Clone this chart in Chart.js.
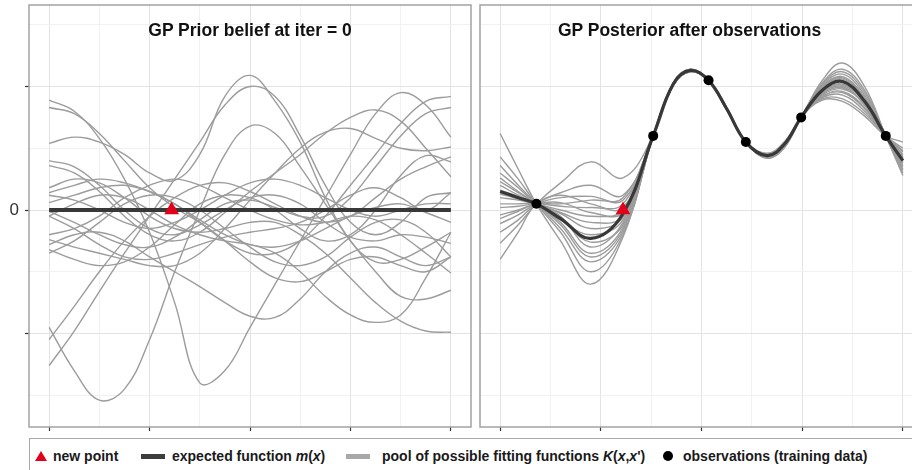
<!DOCTYPE html>
<html>
<head>
<meta charset="utf-8">
<script src="https://cdn.jsdelivr.net/npm/chart.js@4.4.1/dist/chart.umd.min.js"></script>
<style>
  html, body { margin: 0; padding: 0; background: #fff; overflow: hidden; }
  #wrap { position: relative; width: 912px; height: 470px; overflow: hidden; font-family: "Liberation Sans", Arial, sans-serif; }
  canvas { position: absolute; top: 0; }
  #priorCanvas { left: 0; }
  #postCanvas { left: 472px; }
  .title { position: absolute; top: 20px; font-weight: bold; font-size: 17.5px; line-height: 20px; color: #111; text-align: center; white-space: nowrap; }
  #legendBox { position: absolute; left: 29px; top: 438px; width: 920px; height: 60px; border: 1.5px solid #a8a8a8; box-sizing: border-box; }
  .lt { position: absolute; top: 448px; font-weight: bold; font-size: 14px; line-height: 16px; color: #1a1a1a; white-space: nowrap; }
  .key { position: absolute; }
</style>
</head>
<body>
<div id="wrap">
  <canvas id="priorCanvas" width="476" height="436"></canvas>
  <canvas id="postCanvas" width="460" height="436"></canvas>
  <div class="title" style="left:29px;width:442px;">GP Prior belief at iter = 0</div>
  <div class="title" style="left:480px;width:419px;">GP Posterior after observations</div>
  <div id="legendBox"></div>
  <div class="key" style="left:35px;top:451px;width:0;height:0;border-left:6px solid transparent;border-right:6px solid transparent;border-bottom:10px solid #e3001b;"></div>
  <div class="lt" style="left:53px;">new point</div>
  <div class="key" style="left:141px;top:454px;width:24px;height:5px;background:#3d3d3d;"></div>
  <div class="lt" style="left:172px;">expected function <i>m</i>(<i>x</i>)</div>
  <div class="key" style="left:346px;top:454px;width:24px;height:5px;background:#a8a8a8;"></div>
  <div class="lt" style="left:382px;">pool of possible fitting functions <i>K</i>(<i>x</i>,<i>x</i>')</div>
  <div class="key" style="left:663px;top:451px;width:10px;height:10px;border-radius:50%;background:#000;"></div>
  <div class="lt" style="left:683px;">observations (training data)</div>
</div>
<script>
// ---- prior panel: sample functions drawn from the GP prior ----
const priorX = [0, 0.25, 0.5, 0.75, 1, 1.25, 1.5, 1.75, 2, 2.25, 2.5, 2.75, 3, 3.25, 3.5, 3.75, 4];
const priorMean = [0, 0, 0, 0, 0, 0, 0, 0, 0, 0, 0, 0, 0, 0, 0, 0, 0];
const prior01 = [0.89, 0.80, 0.58, 0.25, -0.18, -0.75, -1.40, -1.30, -0.95, -0.60, -0.25, 0.10, 0.45, 0.78, 0.95, 0.85, 0.59];
const prior02 = [0.83, 0.78, 0.62, 0.40, 0.18, 0.02, -0.10, -0.25, -0.42, -0.55, -0.58, -0.50, -0.40, -0.38, -0.45, -0.50, -0.38];
const prior03 = [-1.26, -0.98, -0.66, -0.35, -0.05, 0.25, 0.55, 0.85, 1.00, 0.92, 0.60, 0.20, -0.10, -0.20, -0.10, 0.10, 0.14];
const prior04 = [-0.95, -1.30, -1.54, -1.45, -1.05, -0.50, 0.00, 0.45, 0.68, 0.62, 0.35, 0.05, -0.25, -0.50, -0.70, -0.72, -0.65];
const prior05 = [0.54, 0.59, 0.55, 0.45, 0.30, 0.24, 0.45, 0.92, 1.09, 0.88, 0.55, 0.10, -0.25, -0.42, -0.40, -0.30, -0.18];
const prior06 = [-1.05, -0.78, -0.50, -0.25, -0.05, 0.10, 0.20, 0.22, 0.15, 0.05, -0.05, -0.10, -0.05, 0.10, 0.25, 0.35, 0.43];
const prior07 = [0.36, 0.30, 0.15, -0.05, -0.20, -0.25, -0.18, -0.02, 0.15, 0.30, 0.45, 0.62, 0.75, 0.81, 0.72, 0.50, 0.27];
const prior08 = [-0.28, -0.20, -0.18, -0.25, -0.38, -0.50, -0.62, -0.75, -0.86, -0.87, -0.72, -0.50, -0.35, -0.30, -0.38, -0.45, -0.38];
const prior09 = [0.18, 0.25, 0.22, 0.10, -0.05, -0.15, -0.18, -0.15, -0.10, -0.10, -0.20, -0.35, -0.55, -0.75, -0.90, -0.98, -0.99];
const prior10 = [-0.05, 0.05, 0.12, 0.10, 0.00, -0.12, -0.20, -0.25, -0.28, -0.35, -0.50, -0.70, -0.85, -0.91, -0.85, -0.55, -0.18];
const prior11 = [0.06, 0.12, 0.18, 0.20, 0.15, 0.05, -0.10, -0.25, -0.35, -0.35, -0.25, -0.05, 0.20, 0.45, 0.70, 0.88, 0.92];
const prior12 = [-0.01, -0.10, -0.20, -0.28, -0.30, -0.22, -0.08, 0.05, 0.08, 0.02, -0.05, -0.05, 0.10, 0.35, 0.60, 0.78, 0.83];
const prior13 = [-0.24, -0.30, -0.35, -0.40, -0.45, -0.45, -0.35, -0.15, 0.08, 0.30, 0.50, 0.63, 0.66, 0.58, 0.50, 0.48, 0.51];
const prior14 = [-0.32, -0.40, -0.45, -0.42, -0.30, -0.12, 0.05, 0.12, 0.10, 0.00, -0.15, -0.25, -0.20, 0.00, 0.28, 0.44, 0.39];
const prior15 = [0.40, 0.35, 0.20, 0.00, -0.15, -0.20, -0.12, 0.00, 0.10, 0.12, 0.05, -0.10, -0.22, -0.25, -0.20, -0.22, -0.27];
const prior16 = [-0.35, -0.25, -0.10, 0.05, 0.12, 0.10, 0.00, -0.15, -0.30, -0.42, -0.45, -0.38, -0.22, -0.10, -0.08, -0.18, -0.38];
const prior17 = [0.12, 0.08, 0.00, -0.10, -0.15, -0.10, 0.00, 0.12, 0.22, 0.25, 0.20, 0.10, 0.00, -0.05, 0.00, 0.05, 0.05];
const prior18 = [-0.20, -0.15, -0.05, 0.10, 0.20, 0.25, 0.20, 0.10, 0.00, -0.08, -0.12, -0.10, -0.05, -0.08, -0.20, -0.35, -0.51];
const prior19 = [0.14, 0.20, 0.25, 0.22, 0.15, 0.05, -0.08, -0.20, -0.28, -0.30, -0.25, -0.15, -0.05, 0.02, 0.05, -0.02, -0.10];
const prior20 = [-0.05, -0.15, -0.28, -0.38, -0.40, -0.35, -0.28, -0.22, -0.18, -0.15, -0.10, 0.00, 0.12, 0.18, 0.10, 0.00, 0.14];
const priorDraws = [prior01, prior02, prior03, prior04, prior05, prior06, prior07, prior08, prior09, prior10,
                    prior11, prior12, prior13, prior14, prior15, prior16, prior17, prior18, prior19, prior20];

// ---- posterior panel: conditioned on the training observations ----
const postX = [0, 0.18, 0.36, 0.6, 0.9, 1.22, 1.52, 1.72, 1.89, 2.07, 2.25, 2.44, 2.65, 2.82, 2.99, 3.2, 3.4, 3.62, 3.83, 4.0];
const postMean = [0.15, 0.10, 0.05, -0.07, -0.23, -0.03, 0.60, 1.02, 1.13, 1.05, 0.82, 0.55, 0.44, 0.53, 0.75, 0.97, 1.04, 0.88, 0.60, 0.40];
const post01 = [0.62, 0.33, 0.05, -0.25, -0.60, -0.22, 0.60, 1.03, 1.14, 1.05, 0.82, 0.55, 0.42, 0.50, 0.75, 1.02, 1.12, 0.95, 0.60, 0.32];
const post02 = [0.43, 0.25, 0.05, -0.18, -0.50, -0.20, 0.60, 1.02, 1.13, 1.05, 0.83, 0.55, 0.45, 0.54, 0.75, 0.92, 0.96, 0.83, 0.60, 0.45];
const post03 = [0.36, 0.20, 0.05, -0.15, -0.42, -0.18, 0.60, 1.01, 1.12, 1.05, 0.82, 0.55, 0.43, 0.52, 0.75, 1.05, 1.19, 1.00, 0.60, 0.28];
const post04 = [0.30, 0.18, 0.05, -0.10, -0.35, -0.14, 0.60, 1.02, 1.13, 1.05, 0.81, 0.55, 0.45, 0.54, 0.75, 0.95, 1.00, 0.85, 0.60, 0.42];
const post05 = [0.23, 0.14, 0.05, -0.05, -0.30, -0.10, 0.60, 1.03, 1.14, 1.05, 0.82, 0.55, 0.44, 0.53, 0.75, 0.90, 0.90, 0.78, 0.60, 0.50];
const post06 = [0.16, 0.11, 0.05, -0.02, -0.10, -0.05, 0.60, 1.02, 1.13, 1.05, 0.83, 0.55, 0.43, 0.52, 0.75, 1.00, 1.08, 0.91, 0.60, 0.36];
const post07 = [0.10, 0.08, 0.05, 0.00, -0.05, 0.00, 0.60, 1.02, 1.12, 1.05, 0.82, 0.55, 0.45, 0.54, 0.75, 0.93, 0.98, 0.86, 0.60, 0.44];
const post08 = [0.02, 0.03, 0.05, 0.03, 0.02, 0.05, 0.60, 1.01, 1.13, 1.05, 0.82, 0.55, 0.44, 0.53, 0.75, 0.98, 1.06, 0.90, 0.60, 0.38];
const post09 = [-0.04, 0.00, 0.05, 0.05, 0.08, 0.10, 0.60, 1.02, 1.13, 1.05, 0.82, 0.55, 0.42, 0.51, 0.75, 0.96, 1.02, 0.87, 0.60, 0.41];
const post10 = [-0.11, -0.04, 0.05, 0.10, 0.11, 0.08, 0.60, 1.03, 1.14, 1.05, 0.81, 0.55, 0.46, 0.55, 0.75, 0.91, 0.93, 0.80, 0.60, 0.48];
const post11 = [-0.18, -0.08, 0.05, 0.14, 0.20, 0.12, 0.60, 1.02, 1.13, 1.05, 0.82, 0.55, 0.44, 0.53, 0.75, 1.01, 1.10, 0.93, 0.60, 0.33];
const post12 = [-0.27, -0.12, 0.05, 0.22, 0.39, 0.26, 0.60, 1.01, 1.12, 1.05, 0.83, 0.55, 0.43, 0.52, 0.75, 0.94, 0.99, 0.85, 0.60, 0.43];
const post13 = [-0.40, -0.18, 0.05, 0.12, 0.05, 0.02, 0.60, 1.02, 1.13, 1.05, 0.82, 0.55, 0.45, 0.54, 0.75, 0.97, 1.05, 0.89, 0.60, 0.39];
const post14 = [0.20, 0.12, 0.05, -0.08, -0.20, -0.08, 0.60, 1.02, 1.13, 1.05, 0.82, 0.55, 0.44, 0.53, 0.75, 0.89, 0.88, 0.76, 0.60, 0.55];
const post15 = [0.05, 0.05, 0.05, -0.03, -0.15, -0.06, 0.60, 1.03, 1.13, 1.05, 0.82, 0.55, 0.43, 0.52, 0.75, 0.99, 1.07, 0.91, 0.60, 0.35];
const post16 = [-0.07, -0.01, 0.05, 0.06, -0.02, -0.02, 0.60, 1.02, 1.13, 1.05, 0.81, 0.55, 0.45, 0.54, 0.75, 0.92, 0.95, 0.82, 0.60, 0.47];
const post17 = [0.13, 0.09, 0.05, -0.06, -0.26, -0.12, 0.60, 1.02, 1.12, 1.05, 0.82, 0.55, 0.44, 0.53, 0.75, 0.96, 1.01, 0.87, 0.60, 0.42];
const post18 = [0.26, 0.15, 0.05, -0.12, -0.38, -0.16, 0.60, 1.01, 1.13, 1.05, 0.82, 0.55, 0.43, 0.52, 0.75, 1.03, 1.14, 0.97, 0.60, 0.30];
const postDraws = [post01, post02, post03, post04, post05, post06, post07, post08, post09,
                   post10, post11, post12, post13, post14, post15, post16, post17, post18];

// training observations and the next proposed point
const obsX = [0.36, 1.52, 2.07, 2.44, 2.99, 3.83];
const obsY = [0.05, 0.60, 1.05, 0.55, 0.75, 0.60];
const newPointX = [1.22];
const newPointY = [0];

// axis ticks (no printed values except the zero level)
const xTickValues = [0, 0.5, 1, 1.5, 2, 2.5, 3, 3.5, 4];
const yTickValues = [-1.5, -1, -0.5, 0, 0.5, 1, 1.5];
const yTickLabels = { '0': '0' };

const GREY = '#9c9c9c';
const DARK = '#383838';

const pts = (xs, ys) => xs.map((x, i) => ({ x: x, y: ys[i] }));
const isMajor = v => Math.abs(v - Math.round(v)) < 1e-9;

const panelFrame = {
  id: 'panelFrame',
  afterDraw(chart) {
    const { ctx, chartArea: a } = chart;
    ctx.save();
    ctx.strokeStyle = '#a3a3a3';
    ctx.lineWidth = 1.5;
    ctx.strokeRect(a.left, a.top, a.right - a.left, a.bottom - a.top);
    ctx.restore();
  }
};

function scales(showYLabels, yWidth) {
  return {
    x: {
      type: 'linear', min: -0.2, max: 4.2,
      border: { display: false },
      afterBuildTicks: s => { s.ticks = xTickValues.map(v => ({ value: v })); },
      afterFit: s => { s.height = 9; s.paddingLeft = 0; s.paddingRight = 0; },
      ticks: { callback: () => '', padding: 0, maxRotation: 0, autoSkip: false, font: { size: 1 } },
      grid: {
        color: c => isMajor(c.tick.value) ? '#e3e3e3' : '#f1f1f1',
        lineWidth: 1,
        drawTicks: true, tickLength: 4, tickWidth: 1.2,
        tickColor: c => isMajor(c.tick.value) ? '#333' : 'rgba(0,0,0,0)'
      }
    },
    y: {
      type: 'linear', min: -1.757, max: 1.66,
      border: { display: false },
      afterBuildTicks: s => { s.ticks = yTickValues.map(v => ({ value: v })); },
      afterFit: s => { s.width = yWidth; s.paddingTop = 0; s.paddingBottom = 0; },
      ticks: {
        display: showYLabels,
        callback: v => (yTickLabels[String(v)] !== undefined ? yTickLabels[String(v)] : ''),
        padding: 6, autoSkip: false,
        color: '#333', font: { family: '"Liberation Sans", Arial, sans-serif', size: 17 }
      },
      grid: {
        color: c => isMajor(c.tick.value) ? '#e3e3e3' : '#f1f1f1',
        lineWidth: 1,
        drawTicks: showYLabels, tickLength: 4, tickWidth: 1.2,
        tickColor: c => (showYLabels && isMajor(c.tick.value)) ? '#333' : 'rgba(0,0,0,0)'
      }
    }
  };
}

function baseOptions(padRight, padLeft, showYLabels, yWidth) {
  return {
    responsive: false, animation: false, devicePixelRatio: 1,
    layout: { autoPadding: false, padding: { top: 5, right: padRight, left: padLeft, bottom: 0 } },
    plugins: { legend: { display: false }, tooltip: { enabled: false } },
    elements: { point: { radius: 0 } },
    scales: scales(showYLabels, yWidth)
  };
}

function greyLine(data) {
  return { type: 'line', data: data, borderColor: GREY, borderWidth: 1.4, tension: 0.4,
           pointRadius: 0, fill: false, order: 3 };
}

// left: prior
new Chart(document.getElementById('priorCanvas'), {
  type: 'line',
  data: {
    datasets: [
      { type: 'scatter', data: pts(newPointX, newPointY), pointStyle: 'triangle', pointRadius: 8.5,
        backgroundColor: '#e3001b', borderWidth: 0, order: 0 },
      { type: 'line', data: pts(priorX, priorMean), borderColor: DARK, borderWidth: 4,
        pointRadius: 0, fill: false, order: 1 },
      ...priorDraws.map(d => greyLine(pts(priorX, d)))
    ]
  },
  options: baseOptions(5, 0, true, 29),
  plugins: [panelFrame]
});

// right: posterior
new Chart(document.getElementById('postCanvas'), {
  type: 'line',
  data: {
    datasets: [
      { type: 'scatter', data: pts(obsX, obsY), pointStyle: 'circle', pointRadius: 5,
        backgroundColor: '#000', borderWidth: 0, order: 0 },
      { type: 'scatter', data: pts(newPointX, newPointY), pointStyle: 'triangle', pointRadius: 8.5,
        backgroundColor: '#e3001b', borderWidth: 0, order: 0 },
      { type: 'line', data: pts(postX, postMean), borderColor: DARK, borderWidth: 3.2, tension: 0.4,
        pointRadius: 0, fill: false, order: 1 },
      ...postDraws.map(d => greyLine(pts(postX, d)))
    ]
  },
  options: baseOptions(9, 0, false, 8),
  plugins: [panelFrame]
});
</script>
</body>
</html>
